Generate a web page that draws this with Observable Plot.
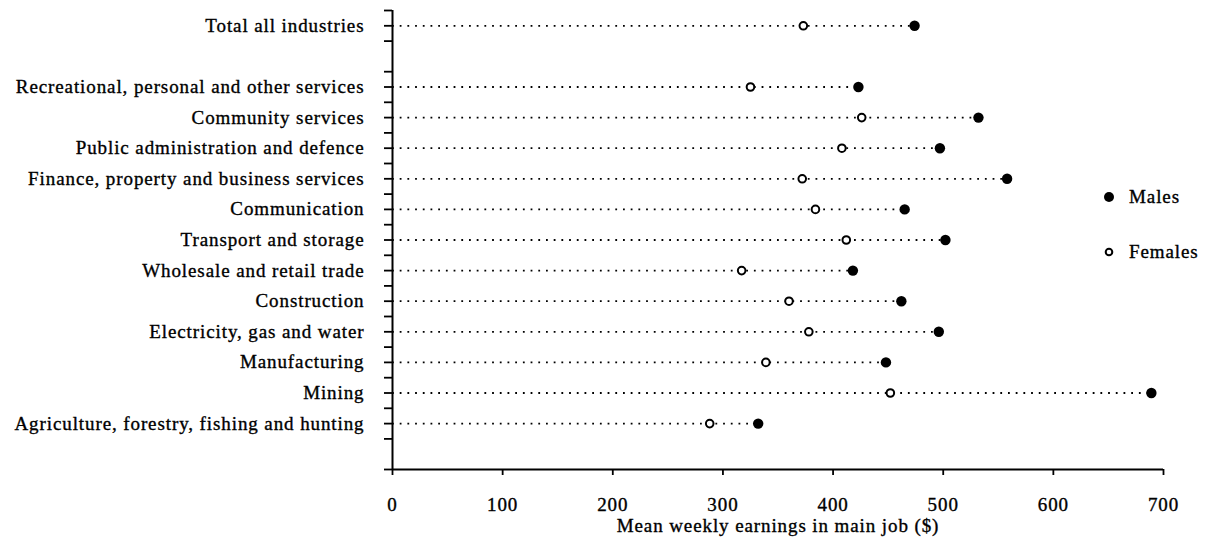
<!DOCTYPE html>
<html>
<head>
<meta charset="utf-8">
<script src="https://cdn.jsdelivr.net/npm/d3@7"></script>
<script src="https://cdn.jsdelivr.net/npm/@observablehq/plot@0.6"></script>
<style>
  body { margin: 0; background: #fff; }
  #wrap { position: relative; width: 1211px; height: 543px; font-family: "Liberation Serif", serif; }
  #wrap svg text { stroke: #000; stroke-width: 0.35px; }
  #legend { position: absolute; left: 1102px; top: 183px; font-size: 19px; letter-spacing: 0.9px; color: #000; -webkit-text-stroke: 0.35px #000; }
  #legend .item { display: flex; align-items: center; height: 28px; margin-bottom: 27px; }
  #legend svg { margin-right: 13px; }
</style>
</head>
<body>
<div id="wrap"><div id="legend"></div></div>
<script>
const industries = [
  "Total all industries",
  "Recreational, personal and other services",
  "Community services",
  "Public administration and defence",
  "Finance, property and business services",
  "Communication",
  "Transport and storage",
  "Wholesale and retail trade",
  "Construction",
  "Electricity, gas and water",
  "Manufacturing",
  "Mining",
  "Agriculture, forestry, fishing and hunting"
];
const males =   [474, 423, 532, 497, 558, 465, 502, 418, 462, 496, 448, 689, 332];
const females = [373, 325, 426, 408, 372, 384, 412, 317, 360, 378, 339, 452, 288];
const xTicks = [0, 100, 200, 300, 400, 500, 600, 700];
const xLabel = "Mean weekly earnings in main job ($)";
const seriesNames = ["Males", "Females"];

// row slots: Total, a blank slot, then the industries
const rows = industries.map((name, i) => ({
  name, pos: i === 0 ? 0 : i + 1, m: males[i], f: females[i]
}));
const labelOf = new Map(rows.map(r => [r.pos, r.name]));
const lastPos = rows[rows.length - 1].pos;
const yMin = -0.5, yMax = lastPos + 1.5;
const yTicks = [yMin, 0, 0.5];
for (let p = 1.5; p <= lastPos + 0.5; p += 0.5) yTicks.push(p);
yTicks.push(yMax);

const font = {fontFamily: "Liberation Serif, serif", fontSize: 19};

const chart = Plot.plot({
  width: 1211,
  height: 543,
  marginLeft: 392,
  marginRight: 48,
  marginTop: 10,
  marginBottom: 74,
  style: {fontFamily: "Liberation Serif, serif", fontSize: "19px", letterSpacing: "0.9px", color: "#000", background: "#fff"},
  x: {domain: [0, 700]},
  y: {domain: [yMin, yMax], range: [10, 469]},
  marks: [
    Plot.ruleY(rows, {y: "pos", x1: 0, x2: d => Math.max(d.m, d.f), stroke: "#000", strokeWidth: 1.8, strokeDasharray: "1.8 5.9"}),
    Plot.ruleX([0], {y1: yMin, y2: yMax, stroke: "#000", strokeWidth: 2}),
    Plot.ruleY([yMax], {x1: 0, x2: 700, stroke: "#000", strokeWidth: 2}),
    Plot.axisY({ticks: yTicks, tickSize: 8, tickFormat: () => "", strokeWidth: 1.8, label: null}),
    Plot.axisY({ticks: rows.map(r => r.pos), tickSize: 0, tickPadding: 28, tickFormat: p => labelOf.get(p), label: null, ...font}),
    Plot.axisX({ticks: xTicks, tickSize: 6, tickPadding: 22, strokeWidth: 1.8, label: null, ...font}),
    Plot.text([xLabel], {frameAnchor: "bottom", dy: 56, lineAnchor: "middle", fill: "#000", ...font}),
    Plot.dot(rows, {x: "f", y: "pos", r: 3.8, stroke: "#000", strokeWidth: 2, fill: "#fff"}),
    Plot.dot(rows, {x: "m", y: "pos", r: 5.2, fill: "#000", stroke: "none"})
  ]
});
document.getElementById("wrap").prepend(chart);

const legend = document.getElementById("legend");
seriesNames.forEach((name, i) => {
  const item = document.createElement("div");
  item.className = "item";
  const filled = i === 0;
  item.innerHTML = `<svg width="14" height="14" viewBox="-7 -7 14 14">${filled
    ? '<circle r="5" fill="#000"/>'
    : '<circle r="3.3" fill="#fff" stroke="#000" stroke-width="2"/>'}</svg><span>${name}</span>`;
  legend.appendChild(item);
});
</script>
</body>
</html>
